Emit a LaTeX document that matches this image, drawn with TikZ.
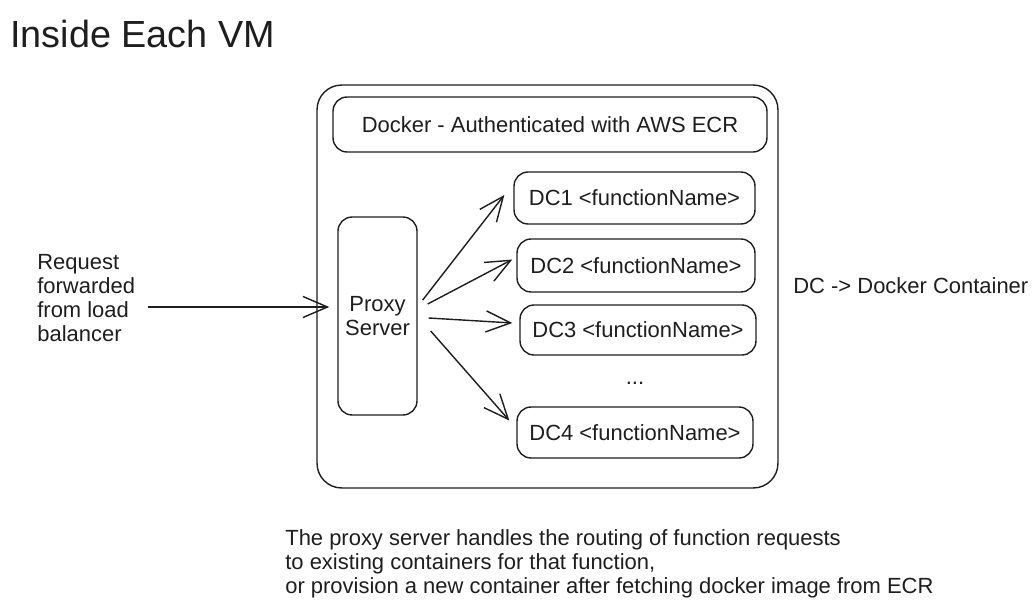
\documentclass[tikz,border=0pt]{standalone}
\usepackage{fontspec}
\setmainfont{Liberation Sans}
\usetikzlibrary{arrows.meta, positioning, calc}
\definecolor{ink}{RGB}{30, 30, 30}

\begin{document}
\begin{tikzpicture}[
    x=0.02cm, y=-0.02cm,
    % rounded box style
    box/.style n args={2}{
        draw=ink,
        line width=0.8pt,
        rounded corners=8pt,
        minimum width=#1,
        minimum height=#2,
        inner sep=0pt,
        text=ink,
        align=center,
        font=\fontsize{12.5}{13.6}\selectfont
    },
    % arrow style
    flow/.style={
        -{Straight Barb[length=14pt, width=12pt, line width=0.8pt]},
        line width=0.8pt,
        draw=ink
    },
    % plain text style
    label/.style={
        text=ink,
        inner sep=0pt,
        align=left,
        font=\fontsize{12.5}{13.6}\selectfont
    }
]
\useasboundingbox (0,0) rectangle (1036,609);

\node[label, anchor=west, font=\fontsize{21.5}{24}\selectfont] (title) at (10,34) {Inside Each VM};

% The VM and its parts
\node[box={9.22cm}{8.06cm}, rounded corners=14pt] (vm) at (547.5,286.5) {};
\node[box={8.68cm}{1.1cm}] (docker) at (550,124.5) {Docker - Authenticated with AWS ECR};
\node[box={1.58cm}{3.96cm}] (proxy) at (377.5,316) {Proxy\\Server};

\node[box={4.82cm}{1.04cm}] (dc1) at (634.5,198) {DC1 <functionName>};
\node[box={4.76cm}{1.06cm}] (dc2) at (636,265.5) {DC2 <functionName>};
\node[box={4.72cm}{1.0cm}] (dc3) at (638,330) {DC3 <functionName>};
\node[label] (dots) at (635,383) {...};
\node[box={4.72cm}{1.02cm}] (dc4) at (635,432.5) {DC4 <functionName>};

% Outside notes
\node[label, anchor=west] (req) at (37,298) {Request\\forwarded\\from load\\balancer};
\node[label, anchor=west] (key) at (793,286) {DC -> Docker Container};
\node[label, anchor=north west] (note) at (285,529) {The proxy server handles the routing of function requests\\to existing containers for that function,\\or provision a new container after fetching docker image from ECR};

% Connections
\draw[flow] ([shift={(13,9)}]req.east) -- ([shift={(-8,-9)}]proxy.west);
\draw[flow] ([shift={(5,-16)}]proxy.east) -- ([shift={(-9,-3)}]dc1.west);
\draw[flow] ([shift={(10,-12)}]proxy.east) -- ([shift={(-4,-6)}]dc2.west);
\draw[flow] ([shift={(11,2)}]proxy.east) -- ([shift={(-7,-7)}]dc3.west);
\draw[flow] ([shift={(13,15)}]proxy.east) -- ([shift={(-7,-12)}]dc4.west);

\end{tikzpicture}
\end{document}
